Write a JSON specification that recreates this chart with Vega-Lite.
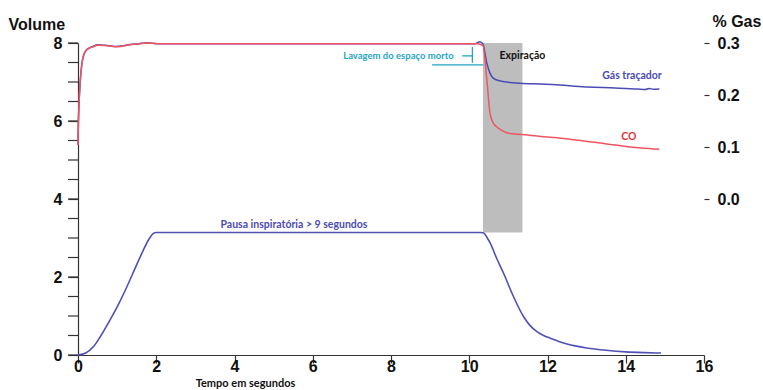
{
  "$schema": "https://vega.github.io/schema/vega-lite/v6.json",
  "width": 626,
  "height": 312,
  "autosize": "none",
  "padding": {"left": 78, "top": 43, "right": 59, "bottom": 35},
  "config": {"view": {"stroke": null}, "font": "Liberation Sans", "axis": {"tickColor": "#333", "domainColor": "#333", "tickWidth": 1.2, "domainWidth": 1.2, "grid": false}},
  "datasets": {
    "volume": [
      {"t": 0, "v": 0}, {"t": 0.2, "v": 0.05}, {"t": 0.39, "v": 0.21}, {"t": 0.6, "v": 0.52},
      {"t": 0.82, "v": 0.9}, {"t": 1.05, "v": 1.33}, {"t": 1.25, "v": 1.75}, {"t": 1.45, "v": 2.2},
      {"t": 1.67, "v": 2.69}, {"t": 1.82, "v": 2.98}, {"t": 1.92, "v": 3.11}, {"t": 2.0, "v": 3.14},
      {"t": 2.2, "v": 3.14}, {"t": 4, "v": 3.14}, {"t": 6, "v": 3.14}, {"t": 8, "v": 3.14},
      {"t": 10.3, "v": 3.14}, {"t": 10.37, "v": 3.13}, {"t": 10.45, "v": 3.02}, {"t": 10.54, "v": 2.86},
      {"t": 10.7, "v": 2.48}, {"t": 10.88, "v": 2.09}, {"t": 11.13, "v": 1.5}, {"t": 11.39, "v": 0.98},
      {"t": 11.55, "v": 0.76}, {"t": 11.73, "v": 0.6}, {"t": 11.9, "v": 0.5}, {"t": 12.07, "v": 0.43},
      {"t": 12.5, "v": 0.28}, {"t": 13, "v": 0.18}, {"t": 13.5, "v": 0.12}, {"t": 14, "v": 0.08},
      {"t": 14.5, "v": 0.06}, {"t": 14.9, "v": 0.05}
    ],
    "tracer": [
      {"t": 0, "g": 0.104}, {"t": 0.01, "g": 0.15}, {"t": 0.1, "g": 0.26}, {"t": 0.18, "g": 0.283},
      {"t": 0.28, "g": 0.29}, {"t": 0.38, "g": 0.2935}, {"t": 0.5, "g": 0.2965}, {"t": 0.7, "g": 0.2955},
      {"t": 0.95, "g": 0.2935}, {"t": 1.1, "g": 0.294}, {"t": 1.33, "g": 0.297}, {"t": 1.55, "g": 0.2985},
      {"t": 1.76, "g": 0.3005}, {"t": 1.9, "g": 0.2995}, {"t": 2.1, "g": 0.2985}, {"t": 4, "g": 0.2985},
      {"t": 6, "g": 0.2985}, {"t": 8, "g": 0.2985}, {"t": 10.15, "g": 0.2985}, {"t": 10.27, "g": 0.3025},
      {"t": 10.35, "g": 0.298}, {"t": 10.45, "g": 0.261}, {"t": 10.53, "g": 0.242}, {"t": 10.62, "g": 0.232},
      {"t": 10.79, "g": 0.227}, {"t": 11.3, "g": 0.2225}, {"t": 11.8, "g": 0.221}, {"t": 12.33, "g": 0.219},
      {"t": 12.8, "g": 0.2165}, {"t": 13.2, "g": 0.215}, {"t": 13.6, "g": 0.214}, {"t": 14.0, "g": 0.2125},
      {"t": 14.3, "g": 0.2115}, {"t": 14.5, "g": 0.2105}, {"t": 14.6, "g": 0.2125}, {"t": 14.7, "g": 0.211},
      {"t": 14.86, "g": 0.2115}
    ],
    "co": [
      {"t": 0, "g": 0.104}, {"t": 0.01, "g": 0.15}, {"t": 0.1, "g": 0.26}, {"t": 0.18, "g": 0.283},
      {"t": 0.28, "g": 0.29}, {"t": 0.38, "g": 0.2925}, {"t": 0.5, "g": 0.2955}, {"t": 0.7, "g": 0.295},
      {"t": 0.95, "g": 0.293}, {"t": 1.1, "g": 0.2935}, {"t": 1.33, "g": 0.2965}, {"t": 1.55, "g": 0.298},
      {"t": 1.76, "g": 0.3}, {"t": 1.9, "g": 0.2995}, {"t": 2.1, "g": 0.2985}, {"t": 4, "g": 0.2985},
      {"t": 6, "g": 0.2985}, {"t": 8, "g": 0.2985}, {"t": 10.2, "g": 0.2985}, {"t": 10.35, "g": 0.295},
      {"t": 10.45, "g": 0.229}, {"t": 10.53, "g": 0.165}, {"t": 10.6, "g": 0.148}, {"t": 10.7, "g": 0.139},
      {"t": 10.85, "g": 0.131}, {"t": 11.04, "g": 0.126}, {"t": 11.5, "g": 0.123}, {"t": 12, "g": 0.119},
      {"t": 12.33, "g": 0.117}, {"t": 12.8, "g": 0.113}, {"t": 13.2, "g": 0.109}, {"t": 13.6, "g": 0.105},
      {"t": 14, "g": 0.101}, {"t": 14.4, "g": 0.098}, {"t": 14.86, "g": 0.0955}
    ],
    "phase": [{"t": 10.35, "t2": 11.36, "v": 3.14, "v2": 8}],
    "notes": [
      {"t": 11.36, "v": 7.67, "label": "Expiração", "kind": "black"},
      {"t": 14.16, "v": 7.15, "label": "Gás traçador", "kind": "blue"},
      {"t": 14.08, "v": 5.59, "label": "CO", "kind": "red"},
      {"t": 5.52, "v": 3.33, "label": "Pausa inspiratória > 9 segundos", "kind": "blue"}
    ],
    "smallnote": [
      {"t": 8.19, "v": 7.67, "label": "Lavagem do espaço morto"}
    ],
    "bracket": [
      {"t": 9.05, "t2": 10.36, "v": 7.44, "v2": 7.44},
      {"t": 10.08, "t2": 10.08, "v": 7.49, "v2": 7.9},
      {"t": 9.82, "t2": 10.08, "v": 7.67, "v2": 7.67}
    ],
    "yticks": [
      {"v": 0}, {"v": 0.5}, {"v": 1}, {"v": 1.5}, {"v": 2}, {"v": 2.5}, {"v": 3}, {"v": 3.5}, {"v": 4},
      {"v": 4.5}, {"v": 5}, {"v": 5.5}, {"v": 6}, {"v": 6.5}, {"v": 7}, {"v": 7.5}, {"v": 8}
    ]
  },
  "layer": [
    {
      "layer": [
        {
          "data": {"name": "phase"},
          "mark": {"type": "rect", "color": "#BDBDBD"},
          "encoding": {
            "x": {
              "field": "t", "type": "quantitative",
              "scale": {"domain": [0, 16], "nice": false, "zero": false},
              "axis": {
                "title": "Tempo em segundos",
                "titleFont": "Lato", "titleFontSize": 11, "titleFontWeight": "bold", "titleColor": "#111",
                "titleX": 167, "titleY": 28, "titleAlign": "center", "titleBaseline": "middle",
                "values": [0, 1, 2, 3, 4, 5, 6, 7, 8, 9, 10, 11, 12, 13, 14, 15, 16],
                "labelExpr": "datum.value % 2 === 0 ? datum.label : ''",
                "labelOverlap": false, "labelFlush": false, "labelFontSize": 16, "labelFontWeight": "bold", "labelColor": "#111",
                "labelPadding": -5, "tickSize": 8, "format": "~g"
              }
            },
            "x2": {"field": "t2"},
            "y": {
              "field": "v", "type": "quantitative",
              "scale": {"domain": [0, 8], "nice": false, "zero": false},
              "axis": {
                "title": "Volume", "titleAngle": 0, "titleAlign": "left", "titleBaseline": "middle",
                "titleX": -70, "titleY": -19, "titleFontSize": 16, "titleFontWeight": "bold", "titleColor": "#111",
                "values": [0, 0.5, 1, 1.5, 2, 2.5, 3, 3.5, 4, 4.5, 5, 5.5, 6, 6.5, 7, 7.5, 8],
                "labelExpr": "datum.value % 2 === 0 ? datum.label : ''",
                "labelOverlap": false, "labelFlush": false, "labelFontSize": 16, "labelFontWeight": "bold", "labelColor": "#111",
                "labelPadding": 6, "tickSize": 10, "format": "~g"
              }
            },
            "y2": {"field": "v2"}
          }
        },
        {
          "mark": {"type": "rule", "color": "#333", "strokeWidth": 1.2},
          "encoding": {
            "x": {"datum": 0, "type": "quantitative"},
            "y": {"datum": 0, "type": "quantitative"},
            "y2": {"datum": 8}
          }
        },
        {
          "data": {"name": "yticks"},
          "mark": {"type": "rule", "color": "#333", "strokeWidth": 1.2, "xOffset": -10, "x2Offset": 0},
          "encoding": {
            "x": {"datum": 0, "type": "quantitative"},
            "x2": {"datum": 0},
            "y": {"field": "v", "type": "quantitative"}
          }
        },
        {
          "data": {"name": "volume"},
          "mark": {"type": "line", "color": "#5050B4", "strokeWidth": 1.6, "interpolate": "monotone"},
          "encoding": {
            "x": {"field": "t", "type": "quantitative"},
            "y": {"field": "v", "type": "quantitative"}
          }
        },
        {
          "data": {"name": "bracket"},
          "mark": {"type": "rule", "color": "#1FA6C4", "strokeWidth": 1.3},
          "encoding": {
            "x": {"field": "t", "type": "quantitative"},
            "x2": {"field": "t2"},
            "y": {"field": "v", "type": "quantitative"},
            "y2": {"field": "v2"}
          }
        },
        {
          "data": {"name": "notes"},
          "mark": {"type": "text", "font": "Lato", "fontSize": 10.5, "fontWeight": "bold", "align": "center", "baseline": "middle"},
          "encoding": {
            "x": {"field": "t", "type": "quantitative"},
            "y": {"field": "v", "type": "quantitative"},
            "text": {"field": "label"},
            "color": {
              "field": "kind", "type": "nominal", "legend": null,
              "scale": {"domain": ["black", "blue", "red"], "range": ["#111111", "#4B4BB4", "#E8303A"]}
            }
          }
        },
        {
          "data": {"name": "smallnote"},
          "mark": {"type": "text", "font": "Lato", "fontSize": 9.5, "fontWeight": "bold", "align": "center", "baseline": "middle", "color": "#1FA6C4"},
          "encoding": {
            "x": {"field": "t", "type": "quantitative"},
            "y": {"field": "v", "type": "quantitative"},
            "text": {"field": "label"}
          }
        }
      ]
    },
    {
      "layer": [
        {
          "data": {"name": "tracer"},
          "mark": {"type": "line", "color": "#4B4BB4", "strokeWidth": 1.5, "interpolate": "monotone"},
          "encoding": {
            "x": {"field": "t", "type": "quantitative"},
            "y": {
              "field": "g", "type": "quantitative",
              "scale": {"domain": [-0.3, 0.3], "nice": false, "zero": false},
              "axis": {
                "orient": "right",
                "title": "% Gas", "titleAngle": 0, "titleAlign": "left", "titleBaseline": "middle",
                "titleX": 8, "titleY": -22, "titleFontSize": 16, "titleFontWeight": "bold", "titleColor": "#111",
                "values": [0, 0.1, 0.2, 0.3], "format": ".1f",
                "labelFontSize": 16, "labelFontWeight": "bold", "labelColor": "#111",
                "labelPadding": 8, "tickSize": 5,
                "domain": false
              }
            }
          }
        },
        {
          "data": {"name": "co"},
          "mark": {"type": "line", "color": "#EE5560", "strokeWidth": 1.5, "interpolate": "monotone"},
          "encoding": {
            "x": {"field": "t", "type": "quantitative"},
            "y": {"field": "g", "type": "quantitative"}
          }
        },
        {
          "mark": {"type": "rule", "color": "#333", "strokeWidth": 1.2},
          "encoding": {
            "x": {"datum": 16, "type": "quantitative"},
            "y": {"datum": 0, "type": "quantitative"},
            "y2": {"datum": 0.3}
          }
        }
      ]
    }
  ],
  "resolve": {"scale": {"y": "independent"}}
}
